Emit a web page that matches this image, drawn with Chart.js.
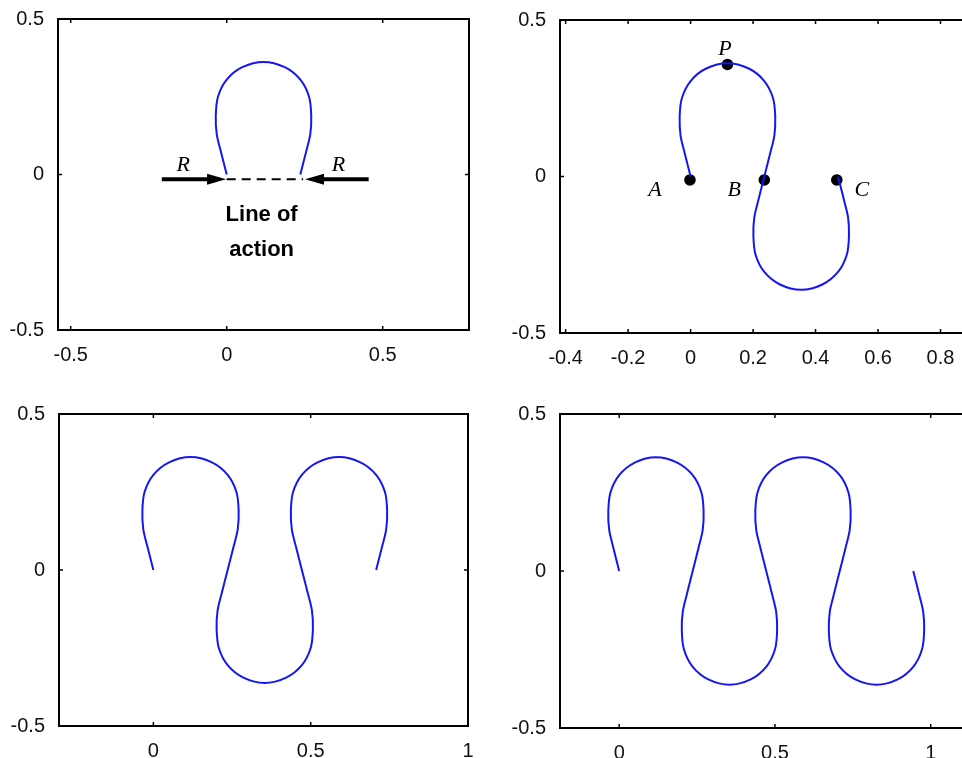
<!DOCTYPE html>
<html>
<head>
<meta charset="utf-8">
<script src="https://cdn.jsdelivr.net/npm/chart.js@4.4.1/dist/chart.umd.min.js"></script>
<style>
  body { margin: 0; background: #fff; overflow: hidden; width: 962px; height: 758px; position: relative; }
  .panel { position: absolute; }
</style>
</head>
<body>
<div class="panel" style="left:0;top:0;width:480px;height:380px"><canvas id="c1"></canvas></div>
<div class="panel" style="left:480px;top:0;width:533px;height:380px"><canvas id="c2"></canvas></div>
<div class="panel" style="left:0;top:380px;width:480px;height:378px"><canvas id="c3"></canvas></div>
<div class="panel" style="left:480px;top:380px;width:530px;height:378px"><canvas id="c4"></canvas></div>
<script>
// elastica curve (panel 4 shows all of it, the others show the first part)
const curveX = [
  0, -0.019, -0.032, -0.035, -0.028, 0.000, 0.050, 0.118, 0.186, 0.236, 0.264, 0.271, 0.268, 0.255, 0.236,
  0.217, 0.204, 0.201, 0.208, 0.236, 0.286, 0.354, 0.422, 0.472, 0.500, 0.507, 0.504, 0.491, 0.472,
  0.453, 0.440, 0.437, 0.444, 0.472, 0.522, 0.590, 0.658, 0.708, 0.736, 0.743, 0.740, 0.727, 0.708,
  0.689, 0.676, 0.673, 0.680, 0.708, 0.758, 0.826, 0.894, 0.944, 0.972, 0.979, 0.976, 0.963, 0.944
];
const curveY = [
  0, 0.075, 0.130, 0.190, 0.250, 0.305, 0.345, 0.362, 0.345, 0.305, 0.250, 0.190, 0.130, 0.075, 0,
  -0.075, -0.130, -0.190, -0.250, -0.305, -0.345, -0.362, -0.345, -0.305, -0.250, -0.190, -0.130, -0.075, 0,
  0.075, 0.130, 0.190, 0.250, 0.305, 0.345, 0.362, 0.345, 0.305, 0.250, 0.190, 0.130, 0.075, 0,
  -0.075, -0.130, -0.190, -0.250, -0.305, -0.345, -0.362, -0.345, -0.305, -0.250, -0.190, -0.130, -0.075, 0
];
// how many curve points each panel shows
const panelPoints = [15, 29, 43, 57];

// tick values
const yTicks = [-0.5, 0, 0.5];
const xTicks1 = [-0.5, 0, 0.5];
const xTicks2 = [-0.4, -0.2, 0, 0.2, 0.4, 0.6, 0.8, 1];
const xTicks3 = [0, 0.5, 1];
const xTicks4 = [0, 0.5, 1];

// panel 1 annotations
const forceArrows = [
  { from: [-0.208, -0.015], to: [-0.002, -0.015] },
  { from: [0.455, -0.015], to: [0.251, -0.015] }
];
const actionLineX = [0, 0.245];
const actionLineY = [-0.015, -0.015];
const forceLabels = [
  { text: "R", x: -0.139, y: 0.031 },
  { text: "R", x: 0.358, y: 0.031 }
];
const actionText = [
  { text: "Line of", x: 0.112, y: -0.130 },
  { text: "action", x: 0.112, y: -0.243 }
];

// panel 2 marked points
const dotX = [-0.002, 0.236, 0.468, 0.118];
const dotY = [-0.011, -0.011, -0.011, 0.358];
const dotLabels = [
  { text: "A", x: -0.114, y: -0.045 },
  { text: "B", x: 0.140, y: -0.045 },
  { text: "C", x: 0.548, y: -0.043 },
  { text: "P", x: 0.110, y: 0.406 }
];

const tickFont = { family: "'Liberation Sans', Arial, sans-serif", size: 20 };

function framePlugin(extra) {
  return {
    id: "frame",
    afterDatasetsDraw(chart) {
      const ctx = chart.ctx;
      const a = chart.chartArea;
      const sx = chart.scales.x, sy = chart.scales.y;
      ctx.save();
      ctx.strokeStyle = "#000";
      ctx.lineWidth = 2;
      ctx.strokeRect(a.left, a.top, a.right - a.left, a.bottom - a.top);
      ctx.lineWidth = 1.5;
      ctx.beginPath();
      sx.ticks.forEach(t => {
        const px = sx.getPixelForValue(t.value);
        ctx.moveTo(px, a.top); ctx.lineTo(px, a.top + 4);
        ctx.moveTo(px, a.bottom); ctx.lineTo(px, a.bottom - 4);
      });
      sy.ticks.forEach(t => {
        const py = sy.getPixelForValue(t.value);
        ctx.moveTo(a.left, py); ctx.lineTo(a.left + 4, py);
        ctx.moveTo(a.right, py); ctx.lineTo(a.right - 4, py);
      });
      ctx.stroke();
      if (extra) extra(ctx, sx, sy);
      ctx.restore();
    }
  };
}

function drawTexts(ctx, sx, sy, list, font) {
  ctx.fillStyle = "#000";
  ctx.font = font;
  ctx.textAlign = "center";
  ctx.textBaseline = "middle";
  list.forEach(l => ctx.fillText(l.text, sx.getPixelForValue(l.x), sy.getPixelForValue(l.y)));
}

function drawArrow(ctx, sx, sy, arr) {
  const x0 = sx.getPixelForValue(arr.from[0]), y0 = sy.getPixelForValue(arr.from[1]);
  const x1 = sx.getPixelForValue(arr.to[0]), y1 = sy.getPixelForValue(arr.to[1]);
  const ang = Math.atan2(y1 - y0, x1 - x0);
  const headLen = 19, headHalf = 5.5;
  const bx = x1 - headLen * Math.cos(ang), by = y1 - headLen * Math.sin(ang);
  ctx.strokeStyle = "#000";
  ctx.lineWidth = 4;
  ctx.beginPath();
  ctx.moveTo(x0, y0); ctx.lineTo(bx + 2 * Math.cos(ang), by + 2 * Math.sin(ang));
  ctx.stroke();
  ctx.fillStyle = "#000";
  ctx.beginPath();
  ctx.moveTo(x1, y1);
  ctx.lineTo(bx - headHalf * Math.sin(ang), by + headHalf * Math.cos(ang));
  ctx.lineTo(bx + headHalf * Math.sin(ang), by - headHalf * Math.cos(ang));
  ctx.closePath();
  ctx.fill();
}

function makePanel(id, p) {
  const n = panelPoints[p.index];
  const datasets = [{
    data: curveX.slice(0, n).map((x, i) => ({ x: x, y: curveY[i] })),
    borderColor: "#1616f2",
    borderWidth: 2,
    pointRadius: 0,
    tension: 0.3,
    fill: false
  }].concat(p.datasets || []);

  new Chart(document.getElementById(id), {
    type: "line",
    data: { datasets: datasets },
    options: {
      responsive: true,
      maintainAspectRatio: false,
      animation: false,
      layout: { padding: { top: p.top, right: p.right, left: 0, bottom: 0 } },
      plugins: { legend: { display: false }, tooltip: { enabled: false } },
      scales: {
        x: {
          type: "linear",
          min: p.xMin,
          max: p.xMax,
          afterBuildTicks: s => { s.ticks = p.xTicks.map(v => ({ value: v })); },
          afterFit: s => { s.height = p.xH; s.paddingLeft = 0; s.paddingRight = 0; },
          grid: { display: false, drawTicks: false },
          border: { display: false },
          ticks: { autoSkip: false, maxRotation: 0, padding: 13, color: "#111", font: tickFont, callback: v => String(v) }
        },
        y: {
          type: "linear",
          min: -0.5,
          max: 0.5,
          afterBuildTicks: s => { s.ticks = yTicks.map(v => ({ value: v })); },
          afterFit: s => { s.width = p.yW; s.paddingTop = 0; s.paddingBottom = 0; },
          grid: { display: false, drawTicks: false },
          border: { display: false },
          ticks: { padding: 14, color: "#111", font: tickFont, callback: v => String(v) }
        }
      }
    },
    plugins: [framePlugin(p.extra)]
  });
}

makePanel("c1", {
  index: 0, top: 19, right: 11, yW: 58, xH: 50,
  xMin: -0.5407, xMax: 0.7766, xTicks: xTicks1,
  datasets: [{
    data: actionLineX.map((x, i) => ({ x: x, y: actionLineY[i] })),
    borderColor: "#000", borderWidth: 2, borderDash: [9, 6], pointRadius: 0, fill: false
  }],
  extra: (ctx, sx, sy) => {
    forceArrows.forEach(a => drawArrow(ctx, sx, sy, a));
    drawTexts(ctx, sx, sy, forceLabels, "italic 22px 'Liberation Serif', 'Times New Roman', serif");
    drawTexts(ctx, sx, sy, actionText, "bold 22px 'Liberation Sans', Arial, sans-serif");
  }
});

makePanel("c2", {
  index: 1, top: 20, right: 10, yW: 80, xH: 47,
  xMin: -0.418, xMax: 1.0, xTicks: xTicks2,
  datasets: [{
    data: dotX.map((x, i) => ({ x: x, y: dotY[i] })),
    showLine: false, pointRadius: 5.8, pointBackgroundColor: "#000", pointBorderColor: "#000", pointBorderWidth: 0
  }],
  extra: (ctx, sx, sy) => {
    drawTexts(ctx, sx, sy, dotLabels, "italic 22px 'Liberation Serif', 'Times New Roman', serif");
  }
});

makePanel("c3", {
  index: 2, top: 34, right: 12, yW: 59, xH: 32,
  xMin: -0.3, xMax: 1.0, xTicks: xTicks3
});

makePanel("c4", {
  index: 3, top: 34, right: 17, yW: 80, xH: 30,
  xMin: -0.19, xMax: 1.2, xTicks: xTicks4
});
</script>
</body>
</html>
